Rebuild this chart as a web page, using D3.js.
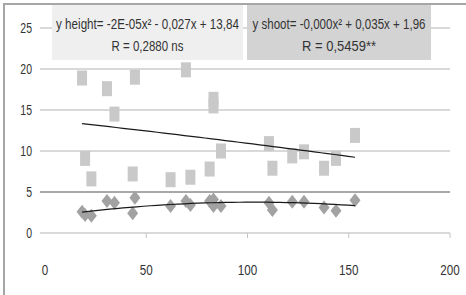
<!DOCTYPE html>
<html>
<head>
<meta charset="utf-8">
<script src="https://cdn.jsdelivr.net/npm/d3@7"></script>
<style>
  body { margin: 0; background: #fff; }
  text { font-family: "Liberation Sans", Arial, sans-serif; fill: #333; }
</style>
</head>
<body>
<div id="chart"></div>
<script>
/* DATA */
const xVals = [18.3, 19.8, 22.9, 30.6, 34.3, 43.3, 44.4, 62, 69.6, 71.8, 81.3, 83.2, 83.2, 86.9, 110.6, 112.3, 122.1, 127.9, 137.8, 143.7, 153.1];
const heightVals = [18.9, 9.1, 6.6, 17.6, 14.5, 7.2, 19.0, 6.5, 19.9, 6.8, 7.8, 16.3, 15.5, 10.0, 10.9, 7.9, 9.4, 9.9, 7.9, 9.1, 11.9];
const shootVals = [2.6, 2.2, 2.1, 3.9, 3.7, 2.4, 4.3, 3.3, 3.9, 3.4, 3.9, 3.3, 4.1, 3.3, 3.7, 2.8, 3.8, 3.8, 3.1, 2.7, 4.0];
const xTicks = [0, 50, 100, 150, 200];
const yTicks = [0, 5, 10, 15, 20, 25];
// trendline coefficients [a, b, c] for a*x^2 + b*x + c
const heightFit = [-0.00002, -0.027, 13.84];
const shootFit = [-0.00017, 0.035, 1.96];
const heightLabel = ["y height= -2E-05x\u00B2 - 0,027x + 13,84", "R = 0,2880 ns"];
const shootLabel = ["y shoot= -0,000x\u00B2 + 0,035x + 1,96", "R = 0,5459**"];

const width = 466, height = 295;

const svg = d3.select("#chart").append("svg")
  .attr("width", width)
  .attr("height", height);

const x = d3.scaleLinear().domain([0, 200]).range([45, 450]);
const y = d3.scaleLinear().domain([0, 25]).range([233, 28]);

// chart border (top + left visible)
svg.append("path")
  .attr("d", `M4,${height} L4,4 L${width},4`)
  .attr("fill", "none")
  .attr("stroke", "#a6a6a6")
  .attr("stroke-width", 2);

// gridlines
svg.selectAll("line.grid")
  .data(yTicks)
  .join("line")
  .attr("class", "grid")
  .attr("x1", x(-2.5))
  .attr("x2", x(200))
  .attr("y1", d => y(d))
  .attr("y2", d => y(d))
  .attr("stroke", d => d === 5 ? "#a8a8a8" : "#cccccc")
  .attr("stroke-width", d => d === 5 ? 2 : 1.5);

// x tick marks
svg.selectAll("line.xtick")
  .data(xTicks.slice(1))
  .join("line")
  .attr("class", "xtick")
  .attr("x1", d => x(d)).attr("x2", d => x(d))
  .attr("y1", y(0)).attr("y2", y(0) + 5)
  .attr("stroke", "#c4c4c4")
  .attr("stroke-width", 1);

// tick labels (narrowed horizontally)
svg.selectAll("text.ylab")
  .data(yTicks)
  .join("text")
  .attr("class", "ylab")
  .attr("transform", d => `translate(32,${y(d)}) scale(0.7,1)`)
  .attr("dy", "0.35em")
  .attr("text-anchor", "end")
  .attr("font-size", 15)
  .text(d => d);

svg.selectAll("text.xlab")
  .data(xTicks)
  .join("text")
  .attr("class", "xlab")
  .attr("transform", d => `translate(${x(d)},275) scale(0.75,1)`)
  .attr("text-anchor", "middle")
  .attr("font-size", 15.5)
  .text(d => d);

// label boxes
const boxes = [
  { x0: 52, x1: 243, fill: "#efefef", lines: heightLabel, lens: [183, 72] },
  { x0: 247, x1: 431, fill: "#d3d3d3", lines: shootLabel, lens: [173, 74] }
];
boxes.forEach(b => {
  svg.append("rect")
    .attr("x", b.x0).attr("y", 5)
    .attr("width", b.x1 - b.x0).attr("height", 55)
    .attr("fill", b.fill);
  b.lines.forEach((t, i) => {
    const txt = svg.append("text")
      .attr("text-anchor", "middle")
      .attr("font-size", 14)
      .text(t);
    // squeeze to the narrow width seen in the chart
    const sx = b.lens[i] / txt.node().getComputedTextLength();
    txt.attr("transform", `translate(${(b.x0 + b.x1) / 2},${i === 0 ? 29 : 50.5}) scale(${sx},1)`);
  });
});

const pts = xVals.map((v, i) => ({ x: v, h: heightVals[i], s: shootVals[i] }));

// height squares
svg.selectAll("rect.sq")
  .data(pts)
  .join("rect")
  .attr("class", "sq")
  .attr("x", d => x(d.x) - 5)
  .attr("y", d => y(d.h) - 7.5)
  .attr("width", 10)
  .attr("height", 15)
  .attr("fill", "#c9c9c9");

// shoot diamonds
svg.selectAll("path.dia")
  .data(pts)
  .join("path")
  .attr("class", "dia")
  .attr("d", "M0,-7 L5.5,0 L0,7 L-5.5,0 Z")
  .attr("transform", d => `translate(${x(d.x)},${y(d.s)})`)
  .attr("fill", "#a2a2a2");

// trendlines
function trend(c) {
  const x0 = d3.min(xVals), x1 = d3.max(xVals);
  return d3.range(0, 41).map(i => {
    const xv = x0 + (x1 - x0) * i / 40;
    return [xv, c[0] * xv * xv + c[1] * xv + c[2]];
  });
}
const line = d3.line().x(d => x(d[0])).y(d => y(d[1]));
[heightFit, shootFit].forEach(c => {
  svg.append("path")
    .attr("d", line(trend(c)))
    .attr("fill", "none")
    .attr("stroke", "#1a1a1a")
    .attr("stroke-width", 1.2);
});
</script>
</body>
</html>
